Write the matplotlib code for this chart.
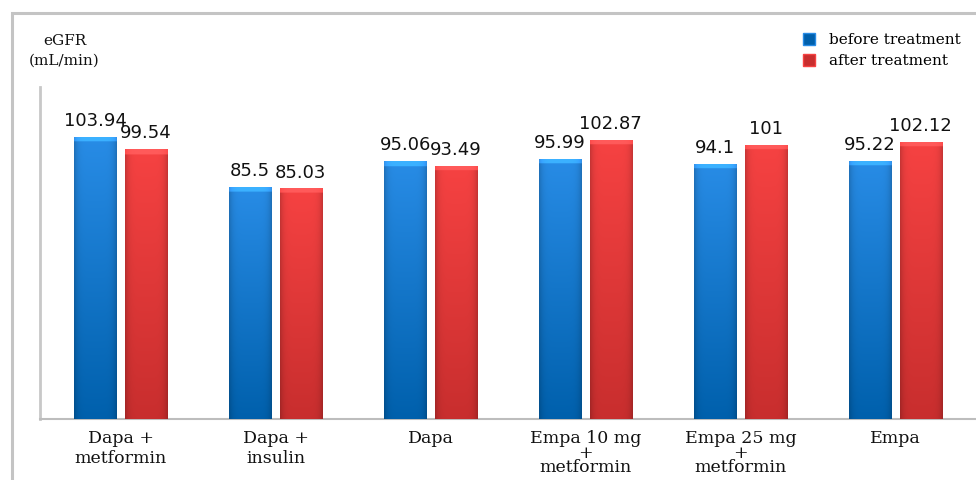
import numpy as np
import matplotlib
matplotlib.use("Agg")
import matplotlib.pyplot as plt
from matplotlib.patches import Rectangle, Patch

groups = ["Dapa +\nmetformin", "Dapa +\ninsulin", "Dapa",
          "Empa 10 mg\n+\nmetformin", "Empa 25 mg\n+\nmetformin", "Empa"]
before = [103.94, 85.5, 95.06, 95.99, 94.1, 95.22]
after = [99.54, 85.03, 93.49, 102.87, 101, 102.12]
before_labels = ["103.94", "85.5", "95.06", "95.99", "94.1", "95.22"]
after_labels = ["99.54", "85.03", "93.49", "102.87", "101", "102.12"]

BLUE_TOP = np.array([40, 140, 230]) / 255
BLUE_BOT = np.array([0, 96, 172]) / 255
RED_TOP = np.array([246, 66, 66]) / 255
RED_BOT = np.array([200, 46, 46]) / 255


def shade(ax, bar, top, bot):
    # vertical gradient with darker sides, clipped to the bar
    x0, y0 = bar.get_x(), bar.get_y()
    w, h = bar.get_width(), bar.get_height()
    ny, nx = 200, 40
    t = np.linspace(1, 0, ny)[:, None]
    col = bot[None, None, :] + (top - bot)[None, None, :] * t[..., None]
    u = np.linspace(-1, 1, nx)[None, :]
    side = 1 - 0.18 * np.abs(u) ** 6
    img = col * side[..., None]
    # lighter bevel at the top
    bevel = int(ny * 2.0 / h)
    img[:bevel] = np.clip(img[:bevel] * 1.18 + 0.05, 0, 1)
    im = ax.imshow(img, extent=[x0, x0 + w, y0, y0 + h], aspect="auto",
                   origin="upper", zorder=3, interpolation="bilinear")
    im.set_clip_path(bar)


fig = plt.figure(figsize=(9.76, 4.8), dpi=100)
ax = fig.add_axes([0.041, 0.127, 0.959, 0.692])

x = np.arange(len(groups))
off = 0.163
w = 0.272
bars_b = ax.bar(x - off, before, w, color=BLUE_BOT, zorder=2)
bars_a = ax.bar(x + off, after, w, color=RED_BOT, zorder=2)
for b in bars_b:
    shade(ax, b, BLUE_TOP, BLUE_BOT)
for b in bars_a:
    shade(ax, b, RED_TOP, RED_BOT)

for b, lab in zip(bars_b, before_labels):
    ax.annotate(lab, (b.get_x() + b.get_width() / 2, b.get_height()),
                xytext=(0, 5), textcoords="offset points", ha="center",
                va="bottom", fontsize=13, color="#111111", zorder=5)
for b, lab in zip(bars_a, after_labels):
    ax.annotate(lab, (b.get_x() + b.get_width() / 2, b.get_height()),
                xytext=(0, 5), textcoords="offset points", ha="center",
                va="bottom", fontsize=13, color="#111111", zorder=5)

ax.set_xlim(-0.52, 5.52)
ax.set_ylim(0, 122.5)
ax.set_xticks(x)
ax.set_xticklabels(groups, family="DejaVu Serif", fontsize=12.5,
                   color="#111111")
for lbl in ax.get_xticklabels():
    lbl.set_linespacing(0.8 if lbl.get_text().count("\n") == 2 else 1.25)
ax.tick_params(axis="x", length=0, pad=8)
ax.set_yticks([])
for s in ["top", "right"]:
    ax.spines[s].set_visible(False)
ax.spines["left"].set_color("#c8c8c8")
ax.spines["left"].set_linewidth(2)
ax.spines["bottom"].set_color("#bdbdbd")
ax.spines["bottom"].set_linewidth(1.5)

fig.text(0.066, 0.915, "eGFR", family="DejaVu Serif", fontsize=11,
         ha="center", va="center", color="#111111")
fig.text(0.066, 0.873, "(mL/min)", family="DejaVu Serif", fontsize=11,
         ha="center", va="center", color="#111111")

handles = [Patch(facecolor=BLUE_BOT, edgecolor=BLUE_TOP),
           Patch(facecolor=RED_BOT, edgecolor=RED_TOP)]
fig.legend(handles, ["before treatment", "after treatment"],
           loc="upper right", bbox_to_anchor=(0.998, 0.96), frameon=False,
           prop={"family": "DejaVu Serif", "size": 11},
           handlelength=0.8, handleheight=0.8, handletextpad=0.9,
           labelspacing=0.45)

# outer frame of the figure
fig.patches.append(Rectangle((0.012, -0.1), 1.2, 0.1 + 0.973, transform=fig.transFigure,
                             fill=False, edgecolor="#c4c4c4", linewidth=2.2))

fig.savefig("out.png", dpi=100)
